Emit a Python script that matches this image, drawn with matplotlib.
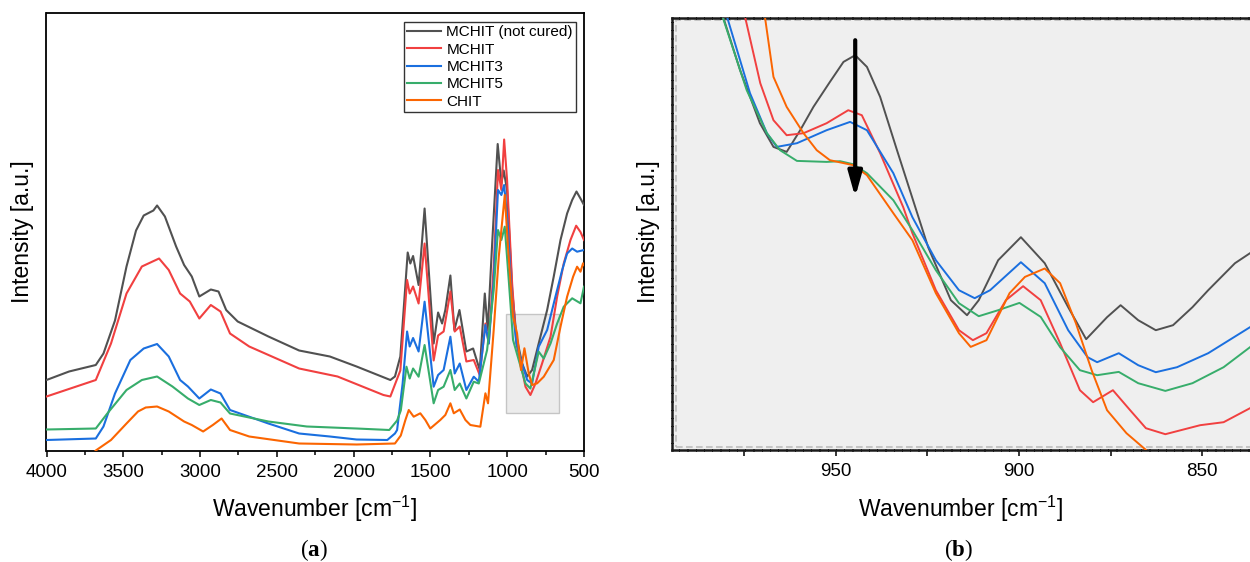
import matplotlib
matplotlib.use("Agg")
import matplotlib.pyplot as plt
from matplotlib.patches import Rectangle
from matplotlib.ticker import MultipleLocator

plt.rcParams['font.family'] = ['Liberation Sans', 'DejaVu Sans']
plt.rcParams['mathtext.fontset'] = 'custom'
plt.rcParams['mathtext.rm'] = 'Liberation Sans'
plt.rcParams['mathtext.it'] = 'Liberation Sans:italic'
plt.rcParams['mathtext.bf'] = 'Liberation Serif:bold'

## DATA ##

names = ["MCHIT (not cured)", "MCHIT", "MCHIT3", "MCHIT5", "CHIT"]
colors = ["#515151", "#F14040", "#1A6FDF", "#37AD6B", "#FB6501"]

# (a) full spectra: wavenumber [cm-1], intensity [a.u.]
wn_black = [4000, 3853, 3679, 3629, 3554, 3479, 3417, 3367, 3304, 3280, 3229, 3156, 3104, 3054,
            3005, 2930, 2880, 2830, 2755, 2555, 2355, 2155, 1981, 1761, 1731, 1696, 1648, 1631,
            1613, 1577, 1538, 1479, 1450, 1424, 1403, 1370, 1344, 1311, 1266, 1222, 1179, 1146,
            1127, 1098, 1062, 1038, 1023, 1001, 968, 940, 903, 870, 838, 795, 740, 697, 653, 610,
            577, 549, 523, 500]
in_black = [70.5, 79, 85.5, 97, 130, 184, 220, 235, 240, 245, 234, 204, 185.5, 174,
            154, 161, 159, 140.5, 129, 114, 100, 94, 84, 70.5, 74, 94, 198, 187,
            194.5, 165.5, 242, 107, 138, 127, 140.5, 175, 120.5, 140.5, 99, 102, 80.5, 157,
            120.5, 207, 306.5, 267, 280, 260.5, 160.5, 114, 87, 74, 80.5, 107, 140.5, 174, 210.5, 237,
            250.5, 259, 252, 245.5]

wn_red = [4000, 3679, 3580, 3479, 3379, 3267, 3204, 3130, 3067, 3005, 2930, 2867, 2805, 2680,
          2355, 2105, 1806, 1761, 1696, 1652, 1635, 1613, 1577, 1538, 1479, 1450, 1414, 1370,
          1342, 1309, 1266, 1218, 1179, 1142, 1120, 1088, 1060, 1038, 1020, 1001, 968, 940, 903,
          881, 849, 816, 773, 718, 675, 632, 588, 551, 523, 500]
in_red = [54, 70.5, 107, 157, 184, 192, 180.5, 157, 149, 132, 145.5, 139, 117, 104,
          82, 74, 55.5, 54, 80, 170.5, 157, 164, 147, 207, 90, 115, 119, 159,
          119, 124, 89, 90.5, 75.5, 127, 107, 184, 280.5, 260.5, 311, 270.5, 167, 107, 80.5,
          63.8, 55.5, 67, 87, 113.8, 153.8, 187, 210.5, 224.8, 218.5, 210.5]

wn_blue = [4000, 3679, 3629, 3554, 3454, 3367, 3280, 3204, 3130, 3079, 3005, 2930, 2867, 2805,
           2555, 2355, 2155, 1981, 1781, 1731, 1717, 1681, 1652, 1635, 1613, 1577, 1538, 1479,
           1450, 1414, 1370, 1342, 1309, 1266, 1218, 1185, 1142, 1120, 1088, 1060, 1038, 1020,
           997, 968, 940, 897, 870, 838, 795, 740, 686, 642, 610, 577, 545, 500]
in_blue = [10.5, 12, 24, 57, 90.5, 102, 106.5, 94, 70.5, 64, 52, 61, 57, 40.5,
           27, 17, 14, 11, 10.5, 17, 20.5, 67, 119, 104, 112.5, 99, 148.8, 63.8,
           75.5, 80.5, 113.8, 77, 87, 60.5, 73.8, 68.8, 125.5, 107, 170.5, 260.5, 255.5, 265.5,
           227, 147, 107, 83.8, 70.5, 67, 103.8, 120.5, 153.8, 180.5, 197, 202, 198.8, 200.5]

wn_green = [4000, 3679, 3604, 3479, 3379, 3280, 3180, 3079, 3005, 2930, 2867, 2805, 2555, 2305,
            1981, 1768, 1717, 1693, 1656, 1635, 1613, 1577, 1538, 1479, 1450, 1414, 1370, 1342,
            1309, 1266, 1218, 1185, 1131, 1088, 1060, 1038, 1016, 990, 962, 925, 881, 849, 795,
            762, 718, 675, 632, 577, 523, 500]
in_green = [21, 22, 37, 60.5, 70.5, 74, 64, 52, 45.5, 50.5, 48, 37, 29, 24,
            22, 20.5, 30, 40, 83.8, 72, 82, 73.8, 105.5, 47.2, 60.5, 63.8, 80.5, 60.5,
            67, 52, 68.8, 67, 100.5, 160.5, 220.5, 210.5, 223.8, 170.5, 110.5, 90.5, 67, 62, 98.8,
            92, 107, 127, 143.8, 152.2, 147.2, 163.8]

wn_orange = [3720, 3679, 3580, 3479, 3404, 3354, 3280, 3204, 3104, 3054, 2980, 2917, 2860, 2805,
             2680, 2355, 1981, 1731, 1693, 1663, 1641, 1609, 1566, 1533, 1501, 1436, 1403, 1370,
             1348, 1309, 1272, 1240, 1175, 1142, 1125, 1088, 1055, 1034, 1016, 995, 962, 936, 910,
             888, 860, 838, 805, 762, 697, 653, 610, 571, 545, 523, 506, 500]
in_orange = [-8, 0, 10.5, 27, 39, 43, 44, 39, 29, 25.5, 19, 25.5, 32, 20.5,
             14, 7, 6, 7, 15, 30.5, 40.5, 33.8, 37.2, 30.5, 22, 30.5, 35.5, 47.2,
             37.2, 41, 30.5, 25.5, 23.8, 57.2, 47.2, 120.5, 193.8, 227, 255.5, 203.8, 133.8, 117.2, 80.5,
             102.2, 77.2, 65.5, 67.2, 73.8, 90.5, 123.8, 153.8, 173.8, 183.8, 178.8, 187.2, 185.5]

# zoomed box marked in (a)
box_wn = (1005, 664)
box_in = (37.2, 136.2)

# (b) detail 995-837 cm-1
zwn_black = [984, 980.6, 976.1, 970.7, 967.0, 963.4, 959.7, 956.1, 951.6, 947.9, 944.7, 941.5,
             937.9, 933.3, 924.8, 918.6, 914.2, 911.0, 905.7, 899.5, 893.0, 886.6, 881.7, 876.0,
             872.3, 867.5, 862.7, 858.0, 852.7, 848.4, 841.1, 837]
zin_black = [480, 431.7, 380, 327, 303.3, 298.3, 320, 343.3, 368.3, 388.3, 395, 383.3,
             353.3, 300, 203, 150, 135, 150, 190, 213, 187, 143, 111, 133,
             145, 130, 120, 125, 143, 160, 187, 197]

zwn_red = [977, 974.7, 970.6, 967.0, 963.4, 958.8, 952.5, 946.6, 942.9, 937.9, 931.6, 929.1,
           922.7, 916.4, 912.6, 908.9, 903.6, 898.9, 894.1, 888.8, 883.4, 879.8, 874.4, 869.7,
           865.4, 860.1, 850.6, 844.2, 837]
zin_red = [470, 432.5, 367, 330, 315, 317, 327, 340, 335, 297, 243, 217,
           160, 120, 110, 117, 150, 164, 150, 107, 60, 48, 60, 40,
           22, 16, 25, 28, 42]

zwn_blue = [982, 979.6, 973.4, 968.8, 966.1, 960.6, 952.5, 946.1, 941.5, 934.3, 929.1, 922.7,
            916.4, 912.1, 907.9, 899.5, 893.0, 886.6, 881.3, 878.7, 872.8, 867.5, 862.7, 856.9,
            848.4, 837]
zin_blue = [470, 432.5, 357, 317, 303.3, 307, 320, 328.3, 320, 277, 233, 190,
            160, 152, 160, 188, 167, 120, 93, 88, 97, 85, 78, 83,
            97, 123]

zwn_green = [983, 980.8, 974.3, 968.8, 965.2, 960.6, 952.5, 948.8, 945.3, 941.5, 934.3, 929.1,
             922.7, 916.4, 911.0, 905.7, 899.9, 894.1, 888.8, 883.4, 878.7, 872.8, 867.5, 860.1,
             852.7, 844.2, 837]
zin_green = [470, 432.5, 360, 317, 300, 289.3, 288.3, 289, 286, 277, 250, 220,
             180, 147, 134, 140, 147.3, 133.3, 103, 80, 75, 78.3, 67, 59.3,
             67, 83, 103]

zwn_orange = [972, 969.3, 967.0, 963.4, 958.8, 955.2, 951.6, 945.2, 941.5, 934.3, 929.1, 922.7,
              916.4, 913.2, 908.9, 902.6, 898.4, 893.0, 888.8, 884.5, 880.2, 876.0, 870.7, 865.3,
              862]
zin_orange = [470, 432.5, 373.3, 343.3, 317, 300, 290, 285, 275, 237, 210, 157,
              117, 103.3, 110, 157, 173.3, 181.7, 167, 127, 80, 40, 17, 0,
              -20]

# arrow in (b): x, tail, tip
arrow_wn = 944.7
arrow_from = 410
arrow_to = 253

full_wn = [wn_black, wn_red, wn_blue, wn_green, wn_orange]
full_in = [in_black, in_red, in_blue, in_green, in_orange]
zoom_wn = [zwn_black, zwn_red, zwn_blue, zwn_green, zwn_orange]
zoom_in = [zin_black, zin_red, zin_blue, zin_green, zin_orange]

## FIGURE ##

W, H = 1250, 562
fig = plt.figure(figsize=(W / 100, H / 100), dpi=100)

def px_axes(x0, y0, x1, y1):
    """axes from pixel box (top-left origin)"""
    return fig.add_axes([x0 / W, 1 - y1 / H, (x1 - x0) / W, (y1 - y0) / H])

# ---- (a) ----
ax1 = px_axes(46.5, 13, 584, 450.5)
for x, y, c, lab in zip(full_wn, full_in, colors, names):
    ax1.plot(x, y, color=c, lw=1.5, label=lab, zorder=3)
ax1.add_patch(Rectangle((box_wn[0], box_in[0]), box_wn[1] - box_wn[0], box_in[1] - box_in[0],
                        facecolor='#e6e6e6', edgecolor='#b5b5b5', lw=1.0, alpha=0.75, zorder=2))
ax1.set_xlim(4000, 500)
ax1.set_ylim(0, 437.5)
ax1.set_yticks([])
ax1.xaxis.set_major_locator(MultipleLocator(500))
ax1.xaxis.set_minor_locator(MultipleLocator(250))
ax1.tick_params(axis='x', which='major', direction='out', length=4.5, width=1.1,
                labelsize=13.5, pad=5)
ax1.tick_params(axis='x', which='minor', direction='out', length=3, width=1.1)
for s in ax1.spines.values():
    s.set_linewidth(1.3)
leg = ax1.legend(loc='upper right', bbox_to_anchor=(0.985, 0.979), borderaxespad=0,
                 fontsize=11, frameon=True, fancybox=False, edgecolor='black',
                 handlelength=2.2, handletextpad=0.35, labelspacing=0.22, borderpad=0.2)
leg.get_frame().set_linewidth(1.0)

# ---- (b) ----
ax2 = px_axes(672.3, 17.5, 1250, 450.2)
ax2.set_facecolor('#efefef')
for x, y, c in zip(zoom_wn, zoom_in, colors):
    ax2.plot(x, y, color=c, lw=1.4, zorder=3)
ax2.annotate('', xy=(arrow_wn, arrow_to), xytext=(arrow_wn, arrow_from),
             arrowprops=dict(arrowstyle='-|>,head_width=0.42,head_length=1.5',
                             mutation_scale=10, lw=3, color='black',
                             shrinkA=0, shrinkB=0), zorder=5)
ax2.set_xlim(994.6, 837)
ax2.set_ylim(0, 432.7)
ax2.set_yticks([])
ax2.xaxis.set_major_locator(MultipleLocator(50))
ax2.xaxis.set_minor_locator(MultipleLocator(25))
ax2.tick_params(axis='x', which='major', direction='out', length=4.5, width=1.1,
                labelsize=13.5, pad=5)
ax2.tick_params(axis='x', which='minor', direction='out', length=4.5, width=1.1)
ax2.spines['right'].set_visible(False)
for k in ('left', 'top', 'bottom'):
    ax2.spines[k].set_linewidth(1.8)
    ax2.spines[k].set_linestyle((0, (2.5, 0.8)))
    ax2.spines[k].set_color('#1a1a1a')
ax2.add_patch(Rectangle((0.006, 0.0083), 1.2, 0.986, transform=ax2.transAxes,
                        facecolor='none', edgecolor='#bdbdbd', lw=1.2,
                        linestyle=(0, (4, 2)), zorder=1, clip_on=False))

# ---- labels ----
for xc, yl_x in ((315, 22), (961, 648)):
    fig.text(yl_x / W, 1 - 232 / H, 'Intensity [a.u.]', rotation=90,
             ha='center', va='center', fontsize=16.5)
    fig.text(xc / W, 1 - 517 / H, r'Wavenumber [cm$^{-1}$]', ha='center',
             va='baseline', fontsize=16.5)
fig.text(314 / W, 1 - 556 / H, r'($\mathbf{a}$)', ha='center', va='baseline',
         fontsize=16.5, family='Liberation Serif')
fig.text(958 / W, 1 - 556 / H, r'($\mathbf{b}$)', ha='center', va='baseline',
         fontsize=16.5, family='Liberation Serif')

fig.savefig('out.png', dpi=100)
